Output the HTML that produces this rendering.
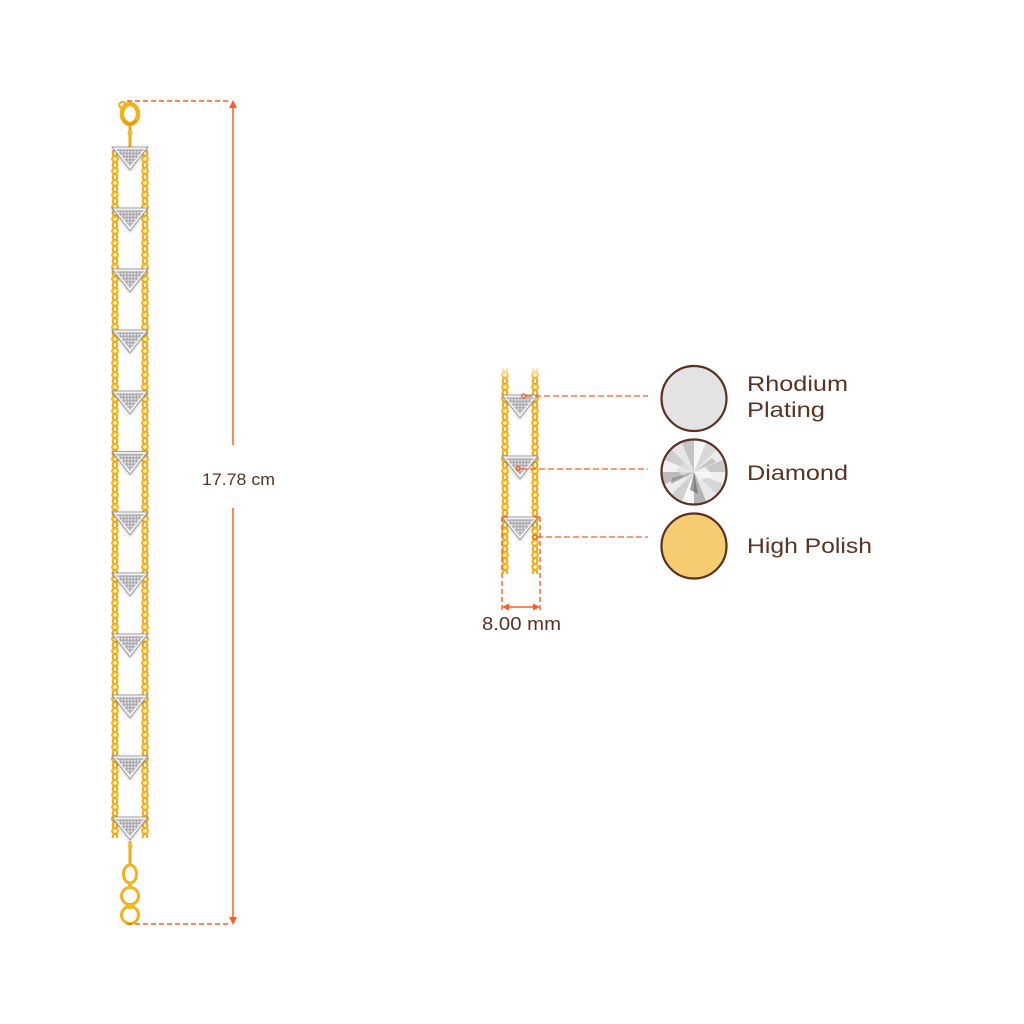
<!DOCTYPE html>
<html>
<head>
<meta charset="utf-8">
<style>
  html,body{margin:0;padding:0;background:#fff;}
  body{width:1024px;height:1024px;overflow:hidden;}
  svg{display:block;}
  .lbl{font-family:"Liberation Sans",sans-serif;fill:#5a3322;}
</style>
</head>
<body>
<svg width="1024" height="1024" viewBox="0 0 1024 1024" xmlns="http://www.w3.org/2000/svg">
  <defs>
    <pattern id="ch" width="10" height="12" patternUnits="userSpaceOnUse" x="0" y="0">
      <circle cx="5" cy="3" r="2.8" fill="none" stroke="#f4b41a" stroke-width="2.3"/>
      <ellipse cx="5" cy="9" rx="2.3" ry="3" fill="none" stroke="#eda716" stroke-width="2.1"/>
      <circle cx="4.2" cy="2" r="0.8" fill="#ffd965"/>
      <circle cx="4.2" cy="8" r="0.7" fill="#ffd965"/>
    </pattern>
    <pattern id="pave" width="3.2" height="3.2" patternUnits="userSpaceOnUse">
      <rect width="3.2" height="3.2" fill="#a9a9ae"/>
      <circle cx="1.6" cy="1.6" r="1.05" fill="#e8e8ec"/>
    </pattern>
    <filter id="sh" x="-30%" y="-30%" width="160%" height="160%">
      <feDropShadow dx="0" dy="1" stdDeviation="1.6" flood-color="#000" flood-opacity="0.2"/>
    </filter>
    <g id="tri">
      <polygon points="-18,0 18,0 0,23" fill="#f2f2f2" stroke="#8a8a8a" stroke-width="0.8" filter="url(#sh)"/>
      <polygon points="-14,2.2 14,2.2 0,19" fill="url(#pave)"/>
    </g>
    <linearGradient id="fade" x1="0" y1="0" x2="0" y2="1">
      <stop offset="0" stop-color="#fff" stop-opacity="1"/>
      <stop offset="1" stop-color="#fff" stop-opacity="0"/>
    </linearGradient>
    <clipPath id="dclip"><circle cx="694" cy="472" r="31.5"/></clipPath>
    <radialGradient id="dg" cx="0.5" cy="0.5" r="0.5">
      <stop offset="0" stop-color="#ffffff"/>
      <stop offset="1" stop-color="#d0d0d0"/>
    </radialGradient>
  </defs>

  <!-- ===== Big bracelet ===== -->
  <rect x="110" y="150" width="10" height="688" fill="url(#ch)"/>
  <rect x="140" y="150" width="10" height="688" fill="url(#ch)"/>

  <!-- clasp -->
  <line x1="130" y1="124" x2="130" y2="148" stroke="#efaa18" stroke-width="3"/>
  <ellipse cx="130" cy="114" rx="8" ry="10" fill="none" stroke="#f2b21c" stroke-width="4.5"/>
  <circle cx="122.5" cy="105" r="3.2" fill="none" stroke="#f2b21c" stroke-width="2.2"/>
  <path d="M124,120 Q130,128 136,120" fill="none" stroke="#e39a10" stroke-width="2.5"/>
  <circle cx="130" cy="133" r="2.6" fill="#f4b925"/>

  <use href="#tri" x="130" y="147"/>
  <use href="#tri" x="130" y="208"/>
  <use href="#tri" x="130" y="269"/>
  <use href="#tri" x="130" y="330"/>
  <use href="#tri" x="130" y="391"/>
  <use href="#tri" x="130" y="451.5"/>
  <use href="#tri" x="130" y="512"/>
  <use href="#tri" x="130" y="573"/>
  <use href="#tri" x="130" y="634"/>
  <use href="#tri" x="130" y="695"/>
  <use href="#tri" x="130" y="756"/>
  <use href="#tri" x="130" y="817"/>

  <!-- bottom rings -->
  <line x1="130" y1="841" x2="130" y2="866" stroke="#efaa18" stroke-width="3"/>
  <circle cx="130" cy="846" r="2.5" fill="#f4b925"/>
  <ellipse cx="130" cy="874" rx="6.5" ry="9" fill="none" stroke="#f2b21c" stroke-width="3"/>
  <circle cx="130" cy="896" r="8.5" fill="none" stroke="#f2b21c" stroke-width="3"/>
  <circle cx="130" cy="915" r="8.5" fill="none" stroke="#f2b21c" stroke-width="3"/>
  <rect x="128" y="884" width="4" height="5" fill="#f4b925"/>
  <rect x="128" y="904" width="4" height="5" fill="#f4b925"/>

  <!-- big dimension -->
  <line x1="127" y1="101" x2="231" y2="101" stroke="#ff5b22" stroke-width="1.5" stroke-dasharray="5,3"/>
  <line x1="127" y1="924" x2="231" y2="924" stroke="#ff5b22" stroke-width="1.5" stroke-dasharray="5,3"/>
  <line x1="233" y1="104" x2="233" y2="445" stroke="#ff5b22" stroke-width="1.5"/>
  <line x1="233" y1="508" x2="233" y2="921" stroke="#ff5b22" stroke-width="1.5"/>
  <polygon points="229,108 237,108 233,100" fill="#ff5b22"/>
  <polygon points="229,917 237,917 233,925" fill="#ff5b22"/>
  <text class="lbl" x="202" y="485" font-size="17" textLength="73" lengthAdjust="spacingAndGlyphs">17.78 cm</text>

  <!-- ===== Small bracelet ===== -->
  <rect x="500" y="368" width="10" height="206" fill="url(#ch)"/>
  <rect x="530" y="368" width="10" height="206" fill="url(#ch)"/>
  <rect x="495" y="364" width="50" height="16" fill="url(#fade)"/>
  <use href="#tri" x="520" y="395"/>
  <use href="#tri" x="520" y="456"/>
  <use href="#tri" x="520" y="517"/>

  <!-- 8.00 mm box -->
  <line x1="502" y1="517" x2="502" y2="612" stroke="#ff5b22" stroke-width="1.4" stroke-dasharray="5,3"/>
  <line x1="540" y1="517" x2="540" y2="612" stroke="#ff5b22" stroke-width="1.4" stroke-dasharray="5,3"/>
  <line x1="502" y1="517" x2="508" y2="517" stroke="#ff5b22" stroke-width="1.4"/>
  <line x1="534" y1="517" x2="540" y2="517" stroke="#ff5b22" stroke-width="1.4"/>
  <line x1="506" y1="607" x2="536" y2="607" stroke="#ff5b22" stroke-width="1.5"/>
  <polygon points="509,603.5 509,610.5 502,607" fill="#ff5b22"/>
  <polygon points="533,603.5 533,610.5 540,607" fill="#ff5b22"/>
  <text class="lbl" x="482" y="630" font-size="18" textLength="79" lengthAdjust="spacingAndGlyphs">8.00 mm</text>

  <!-- leader lines -->
  <circle cx="523.5" cy="396" r="2" fill="none" stroke="#ff5b22" stroke-width="1.2"/>
  <line x1="526" y1="396" x2="648" y2="396" stroke="#ff5b22" stroke-width="1.3" stroke-dasharray="6,3"/>
  <circle cx="518" cy="468.5" r="2" fill="none" stroke="#ff5b22" stroke-width="1.2"/>
  <line x1="521" y1="469" x2="648" y2="469" stroke="#ff5b22" stroke-width="1.3" stroke-dasharray="6,3"/>
  <circle cx="535" cy="537" r="2" fill="none" stroke="#ff5b22" stroke-width="1.2"/>
  <line x1="537" y1="537" x2="648" y2="537" stroke="#ff5b22" stroke-width="1.3" stroke-dasharray="6,3"/>

  <!-- swatches -->
  <circle cx="694" cy="398.5" r="32.5" fill="#e3e3e3" stroke="#5a3020" stroke-width="2.2"/>

  <g clip-path="url(#dclip)">
    <rect x="660" y="438" width="68" height="68" fill="url(#dg)"/>
    <polygon points="694,472 728,472 725.4,485" fill="#f0f0f0"/>
    <polygon points="694,472 725.4,485 718,496" fill="#d6d6d6"/>
    <polygon points="694,472 718,496 707,503.4" fill="#e8e8e8"/>
    <polygon points="694,472 707,503.4 694,506" fill="#b4b4b4"/>
    <polygon points="694,472 694,506 681,503.4" fill="#f6f6f6"/>
    <polygon points="694,472 681,503.4 670,496" fill="#d0d0d0"/>
    <polygon points="694,472 670,496 662.6,485" fill="#ececec"/>
    <polygon points="694,472 662.6,485 660,472" fill="#bcbcbc"/>
    <polygon points="694,472 660,472 662.6,459" fill="#f2f2f2"/>
    <polygon points="694,472 662.6,459 670,448" fill="#cfcfcf"/>
    <polygon points="694,472 670,448 681,440.6" fill="#e6e6e6"/>
    <polygon points="694,472 681,440.6 694,438" fill="#c4c4c4"/>
    <polygon points="694,472 694,438 707,440.6" fill="#f6f6f6"/>
    <polygon points="694,472 707,440.6 718,448" fill="#d8d8d8"/>
    <polygon points="694,472 718,448 725.4,459" fill="#ebebeb"/>
    <polygon points="694,472 725.4,459 728,472" fill="#c8c8c8"/>
    <polygon points="694,472 704,466 714,476 700,480" fill="#fafafa" opacity="0.8"/>
    <polygon points="694,472 686,462 676,470 688,480" fill="#e0e0e0" opacity="0.8"/>
    <polygon points="694,472 690,490 698,494" fill="#555" opacity="0.55"/>
    <polygon points="694,472 672,478 671,484" fill="#666" opacity="0.45"/>
    <polygon points="694,472 712,458 716,462" fill="#888" opacity="0.4"/>
  </g>
  <circle cx="694" cy="472" r="32.5" fill="none" stroke="#5a3020" stroke-width="2.2"/>

  <circle cx="694" cy="546" r="32.5" fill="#f5cd70" stroke="#5a3020" stroke-width="2.2"/>

  <text class="lbl" x="747" y="391" font-size="21" textLength="101" lengthAdjust="spacingAndGlyphs">Rhodium</text>
  <text class="lbl" x="747" y="417" font-size="21" textLength="78" lengthAdjust="spacingAndGlyphs">Plating</text>
  <text class="lbl" x="747" y="480" font-size="21" textLength="101" lengthAdjust="spacingAndGlyphs">Diamond</text>
  <text class="lbl" x="747" y="553" font-size="21" textLength="125" lengthAdjust="spacingAndGlyphs">High Polish</text>
</svg>
</body>
</html>
